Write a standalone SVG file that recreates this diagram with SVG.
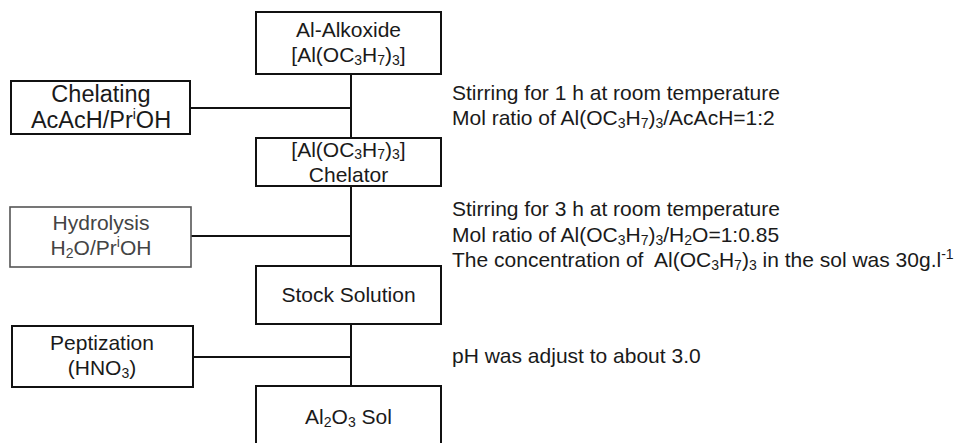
<svg xmlns="http://www.w3.org/2000/svg" width="960" height="443" viewBox="0 0 960 443">
<style>
text{font-family:"Liberation Sans",Arial,sans-serif;font-size:21px;fill:#1a1a1a}
.box{fill:#fff;stroke:#111;stroke-width:2}
.gbox{fill:#fff;stroke:#555;stroke-width:1.6}
.c{text-anchor:middle}
.g{fill:#444}
.big{font-size:23.5px}
.ln{stroke:#111;stroke-width:2;fill:none}
.s{font-size:14px}
</style>
<rect width="960" height="443" fill="#fff"/>
<g id="connectors">
<line class="ln" x1="351" y1="74" x2="351" y2="138"/>
<line class="ln" x1="351" y1="186" x2="351" y2="266"/>
<line class="ln" x1="351" y1="324" x2="351" y2="386"/>
<line class="ln" x1="190" y1="108" x2="351" y2="108"/>
<line class="ln" x1="190" y1="236" x2="351" y2="236"/>
<line class="ln" x1="193" y1="357" x2="351" y2="357"/>
</g>
<g id="alkoxide">
<rect class="box" x="256" y="12" width="185" height="62"/>
<text class="c" x="348.5" y="37" fill="#333">Al-Alkoxide</text>
<text class="c" x="348.5" y="62">[Al(OC<tspan class="s" dy="3">3</tspan><tspan dy="-3">H</tspan><tspan class="s" dy="3">7</tspan><tspan dy="-3">)</tspan><tspan class="s" dy="3">3</tspan><tspan dy="-3">]</tspan></text>
</g>
<g id="chelating">
<rect class="box" x="11" y="81" width="179" height="53"/>
<text class="c big" x="101" y="102">Chelating</text>
<text class="c big" x="101" y="128">AcAcH/Pr<tspan class="s" dy="-9">i</tspan><tspan dy="9">OH</tspan></text>
</g>
<g id="chelator">
<rect class="box" x="256" y="138" width="185" height="48"/>
<text class="c" x="348.5" y="157">[Al(OC<tspan class="s" dy="2">3</tspan><tspan dy="-2">H</tspan><tspan class="s" dy="2">7</tspan><tspan dy="-2">)</tspan><tspan class="s" dy="2">3</tspan><tspan dy="-2">]</tspan></text>
<text class="c" x="348.5" y="182">Chelator</text>
</g>
<g id="hydrolysis">
<rect class="gbox" x="10" y="207" width="181" height="60"/>
<text class="c g" x="101" y="230">Hydrolysis</text>
<text class="c g" x="101" y="255">H<tspan class="s" dy="3">2</tspan><tspan dy="-3">O/Pr</tspan><tspan class="s" dy="-8">i</tspan><tspan dy="8">OH</tspan></text>
</g>
<g id="stock">
<rect class="box" x="256" y="266" width="185" height="58"/>
<text class="c" x="348.5" y="302">Stock Solution</text>
</g>
<g id="peptization">
<rect class="box" x="12" y="326" width="181" height="61"/>
<text class="c" x="102" y="350">Peptization</text>
<text class="c" x="102" y="375">(HNO<tspan class="s" dy="3">3</tspan><tspan dy="-3">)</tspan></text>
</g>
<g id="sol">
<rect class="box" x="256" y="386" width="185" height="80"/>
<text class="c" x="348.5" y="424">Al<tspan class="s" dy="3">2</tspan><tspan dy="-3">O</tspan><tspan class="s" dy="3">3</tspan><tspan dy="-3"> Sol</tspan></text>
</g>
<g id="notes">
<text x="452" y="100">Stirring for 1 h at room temperature</text>
<text x="452" y="125">Mol ratio of Al(OC<tspan class="s" dy="3">3</tspan><tspan dy="-3">H</tspan><tspan class="s" dy="3">7</tspan><tspan dy="-3">)</tspan><tspan class="s" dy="3">3</tspan><tspan dy="-3">/AcAcH=1:2</tspan></text>
<text x="452" y="216">Stirring for 3 h at room temperature</text>
<text x="452" y="242">Mol ratio of Al(OC<tspan class="s" dy="3">3</tspan><tspan dy="-3">H</tspan><tspan class="s" dy="3">7</tspan><tspan dy="-3">)</tspan><tspan class="s" dy="3">3</tspan><tspan dy="-3">/H</tspan><tspan class="s" dy="3">2</tspan><tspan dy="-3">O=1:0.85</tspan></text>
<text x="452" y="267" xml:space="preserve">The concentration of  Al(OC<tspan class="s" dy="3">3</tspan><tspan dy="-3">H</tspan><tspan class="s" dy="3">7</tspan><tspan dy="-3">)</tspan><tspan class="s" dy="3">3</tspan><tspan dy="-3"> in the sol was 30g.l</tspan><tspan class="s" dy="-8">-1</tspan></text>
<text x="452" y="363">pH was adjust to about 3.0</text>
</g>
</svg>
